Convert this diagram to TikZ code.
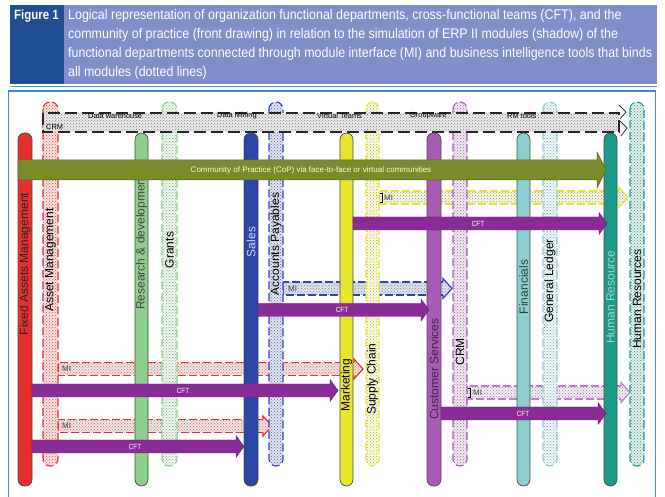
\documentclass[tikz,border=0pt]{standalone}
\usepackage{fontspec}
\setmainfont{Liberation Sans}
\newfontfamily\capfont[FakeStretch=0.89]{Liberation Sans}
\newfontfamily\narrowfont[FakeStretch=0.85]{Liberation Sans}
\usetikzlibrary{patterns}
\definecolor{hdrdark}{HTML}{1F4F92}
\definecolor{hdrlight}{HTML}{7D8EC8}
\definecolor{hdrline}{HTML}{5E9AA6}
\definecolor{frameblue}{HTML}{4A86D6}
\definecolor{cred}{HTML}{E5312B}
\definecolor{cgreen}{HTML}{8ED08B}
\definecolor{cblue}{HTML}{2B46A6}
\definecolor{cyellow}{HTML}{E8E62C}
\definecolor{cpurple}{HTML}{A65CB2}
\definecolor{cpurplemi}{HTML}{C07CCB}
\definecolor{cltteal}{HTML}{8CCFCF}
\definecolor{cteal}{HTML}{1B9A87}
\definecolor{colive}{HTML}{7A8B29}
\definecolor{ccft}{HTML}{8A2C97}
\tikzset{
  solidbar/.style={draw=black!70, line width=0.7pt, fill=#1, rounded corners=6.5pt},
  shadowbar/.style={draw=#1, line width=1.1pt, dash pattern=on 8pt off 3.5pt, rounded corners=7pt,
     preaction={fill=#1!14}, pattern=crosshatch dots, pattern color=#1!50!gray},
  vlabel/.style={rotate=90, inner sep=0pt, font=\fontsize{12}{12}\selectfont},
  captxt/.style={anchor=base west, inner sep=0pt, text=white, font=\capfont\fontsize{14}{16}\selectfont},
  bandlbl/.style={anchor=west, inner sep=0pt, text=black, font=\fontsize{7.4}{8}\selectfont},
  milbl/.style={anchor=west, inner sep=0pt, text=black!75, font=\fontsize{8}{8}\selectfont},
  cftlbl/.style={inner sep=0pt, text=white, font=\narrowfont\fontsize{7.5}{8}\selectfont},
  cftarrow/.style={fill=ccft, draw=ccft!70!black, line width=0.4pt},
}
% style, x0, xe, yc, half height, head length, wing half height
\newcommand{\fatarrowpath}[7]{%
  \path[#1] (#2,#4-#5) -- (#3-#6,#4-#5) -- (#3-#6,#4-#7) -- (#3,#4) -- (#3-#6,#4+#7) -- (#3-#6,#4+#5) -- (#2,#4+#5) -- cycle;}
% colour, x0, xe, yc
\newcommand{\miband}[4]{%
  \path[preaction={fill=#1!16}, pattern=crosshatch dots, pattern color=black!45]
    (#2,#4-6.5) -- (#3-9,#4-6.5) -- (#3-9,#4-10) -- (#3,#4) -- (#3-9,#4+10) -- (#3-9,#4+6.5) -- (#2,#4+6.5) -- cycle;
  \draw[#1, line width=1.1pt, dash pattern=on 8pt off 3pt] (#3-9,#4-6.5) -- (#2,#4-6.5) -- (#2,#4+6.5) -- (#3-9,#4+6.5);
  \draw[#1, line width=1.1pt] (#3-9,#4-6.5) -- (#3-9,#4-10) -- (#3,#4) -- (#3-9,#4+10) -- (#3-9,#4+6.5);}
\begin{document}
\begin{tikzpicture}[x=1pt,y=-1pt]
\useasboundingbox (0,0) rectangle (665,497);
\fill[white] (0,0) rectangle (665,497);
% header
\fill[hdrdark] (10,5) rectangle (64,84);
\fill[hdrlight] (64,5) rectangle (657,84);
\draw[hdrline, line width=1.5pt] (10,86.5) -- (657,86.5);
\node[captxt, font=\narrowfont\bfseries\fontsize{13.5}{16}\selectfont] (fig) at (14,19.5) {Figure 1};
\node[captxt] (cap1) at (68,19.5) {Logical representation of organization functional departments, cross-functional teams (CFT), and the};
\node[captxt] (cap2) at (68,38.5) {community of practice (front drawing) in relation to the simulation of ERP II modules (shadow) of the};
\node[captxt] (cap3) at (68,57.5) {functional departments connected through module interface (MI) and business intelligence tools that binds};
\node[captxt] (cap4) at (68,76.5) {all modules (dotted lines)};
% frame
\draw[frameblue, line width=1.5pt] (8.5,500) -- (8.5,91) -- (655.5,91) -- (655.5,500);
% module interface bands
\miband{cyellow}{379}{628}{197.5}
\miband{cblue}{283}{452}{288.5}
\miband{cred}{58}{363}{369}
\miband{cred}{58}{272}{426}
\miband{cpurplemi}{467}{630}{392.5}
% shadow bars
\path[shadowbar=cred]    (43,102) rectangle (58,466);
\path[shadowbar=cgreen]  (162,102) rectangle (177,466);
\path[shadowbar=cblue]   (269,102) rectangle (283,466);
\path[shadowbar=cyellow] (366,102) rectangle (379,466);
\path[shadowbar=cpurple] (453,102) rectangle (467,466);
\path[shadowbar=cltteal] (543,102) rectangle (557,466);
\path[shadowbar=cteal]   (630,102) rectangle (644,466);
% business intelligence band
\path[preaction={fill=black!8}, pattern=crosshatch dots, pattern color=black!50] (43,113) rectangle (619,132);
\draw[black!85, line width=1.3pt, dash pattern=on 12pt off 5pt] (43,113) rectangle (619,132);
\draw[black!80, line width=0.8pt] (619,105) -- (626,112) -- (620,119) (620,121) -- (627,128) -- (621,136);
\node[bandlbl] (dw) at (88,116) {Data warehouse};
\node[bandlbl] (dm) at (217,116) {Data Mining};
\node[bandlbl] (vt) at (317,116) {Virtual Teams};
\node[bandlbl] (gw) at (410,116) {Groupware};
\node[bandlbl] (rm) at (507,116) {RM tools};
\node[bandlbl] (crmt) at (46,127) {CRM};
% solid bars
\path[solidbar=cred]    (18,133) rectangle (32,486);
\path[solidbar=cgreen]  (135,133) rectangle (148,486);
\path[solidbar=cblue]   (244,133) rectangle (258,486);
\path[solidbar=cyellow] (340,133) rectangle (353,486);
\path[solidbar=cpurple] (427,133) rectangle (441,486);
\path[solidbar=cltteal] (517,133) rectangle (530,486);
\path[solidbar=cteal]   (604,133) rectangle (617,486);
% vertical labels
\node[vlabel, text=black!85] (fam) at (25,264) {Fixed Assets Management};
\node[vlabel, text=black] (am) at (50.5,260) {Asset Management};
\node[vlabel, text=black!75, anchor=west] (rd) at (141.5,310) {Research \& development};
\node[vlabel, text=black] (gr) at (169.5,250) {Grants};
\node[vlabel, text=blue!15] (sa) at (251,242) {Sales};
\node[vlabel, text=black] (ap) at (276,244) {Accounts Payables};
\node[vlabel, text=black] (mk) at (346.5,385) {Marketing};
\node[vlabel, text=black] (sc) at (372.5,379) {Supply Chain};
\node[vlabel, text=cpurple!40!black] (cs) at (434,369) {Customer Services};
\node[vlabel, text=black] (crm) at (460,352) {CRM};
\node[vlabel, text=cltteal!30!black] (fi) at (523.5,287) {Financials};
\node[vlabel, text=black] (gl) at (550,281) {General Ledger};
\node[vlabel, text=cltteal!80!white] (hr) at (610.5,297) {Human Resource};
\node[vlabel, text=black] (hrs) at (637,299) {Human Resources};
% community of practice
\fatarrowpath{fill=colive, draw=colive!70!black, line width=0.5pt}{18}{606}{170}{10}{9}{18}
\node[inner sep=0pt, text=white!85!yellow, font=\fontsize{8}{8}\selectfont] (cop) at (311,170) {Community of Practice (CoP) via face-to-face or virtual communities};
% cross-functional teams
\fatarrowpath{cftarrow}{353}{607}{223.5}{6.5}{8}{11}
\fatarrowpath{cftarrow}{258}{429}{310}{6.5}{8}{11}
\fatarrowpath{cftarrow}{32}{338}{390.5}{6.5}{8}{11}
\fatarrowpath{cftarrow}{32}{244}{446.5}{6.5}{8}{11}
\fatarrowpath{cftarrow}{441}{606}{413.5}{6.5}{8}{11}
\node[cftlbl] (cft1) at (478,223.5) {CFT};
\node[cftlbl] (cft2) at (342,310) {CFT};
\node[cftlbl] (cft3) at (183,390.5) {CFT};
\node[cftlbl] (cft4) at (135,446.5) {CFT};
\node[cftlbl] (cft5) at (523,413.5) {CFT};
% MI labels
\draw[black, line width=0.8pt] (380,193) -- (382,193) -- (382,202) -- (380,202);
\node[milbl] (mi1) at (384,197.5) {MI};
\node[milbl] (mi2) at (288,288.5) {MI};
\node[milbl] (mi3) at (62,369) {MI};
\node[milbl] (mi4) at (62,426) {MI};
\draw[black, line width=0.8pt] (468,388) -- (470,388) -- (470,397) -- (468,397);
\node[milbl] (mi5) at (473,392.5) {MI};
\end{tikzpicture}
\end{document}
